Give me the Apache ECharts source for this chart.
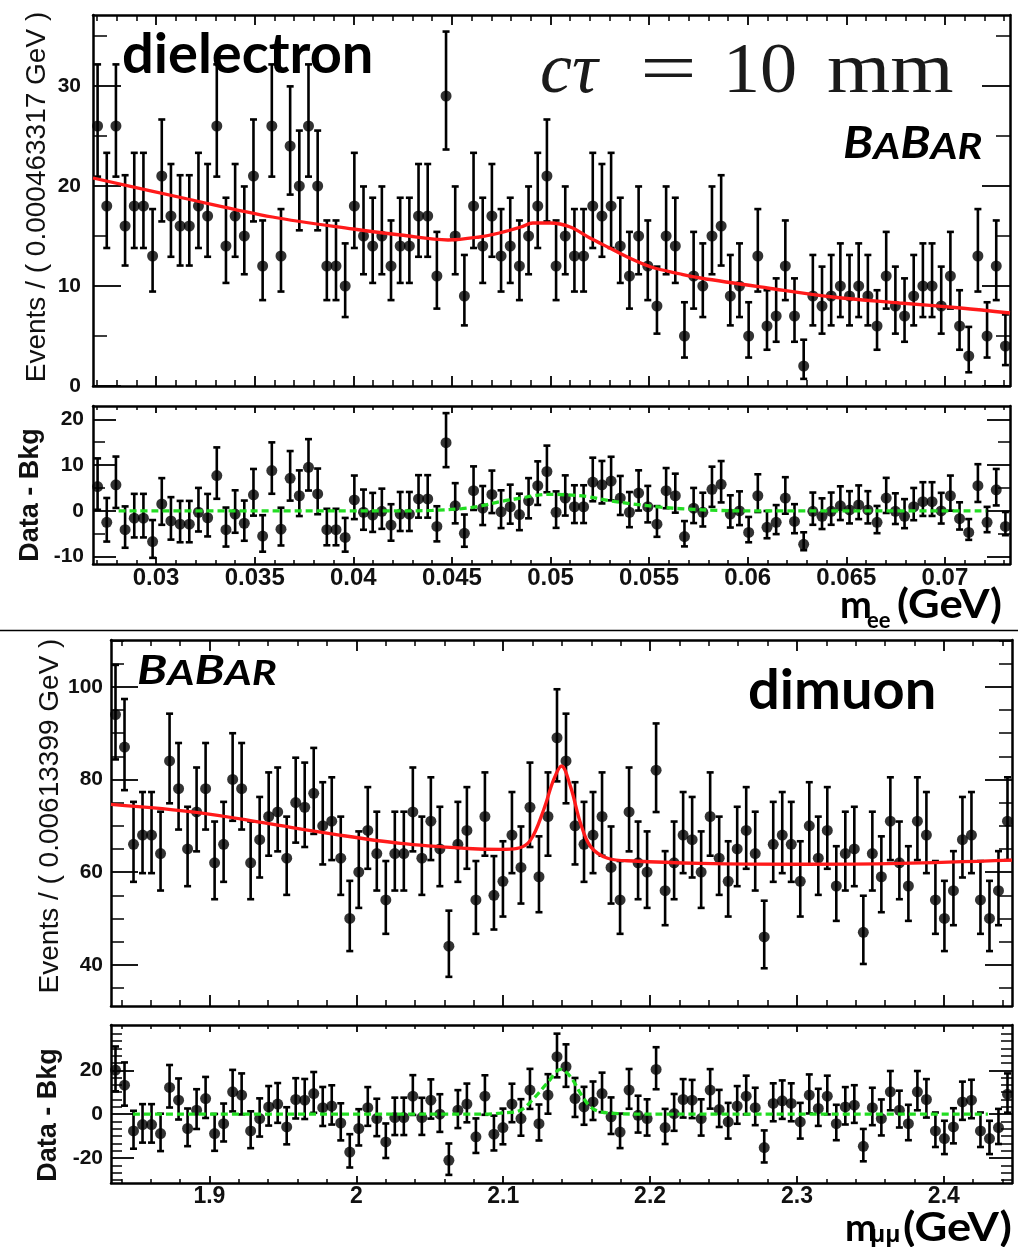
<!DOCTYPE html>
<html>
<head>
<meta charset="utf-8">
<script src="https://cdn.jsdelivr.net/npm/echarts@6.0.0/dist/echarts.min.js"></script>
<style>
html, body { margin: 0; padding: 0; background: #fff; }
#chart { width: 1018px; height: 1247px; }
</style>
</head>
<body>
<div id="chart"></div>
<script>
// ---- dielectron ----
var eeRange = [0.0268, 0.0733];
var eeCounts = [26,18,26,16,18,18,13,21,17,16, 16,18,17,26,14,17,15,21,12,26,
                13,24,20,26,20,12,12,10,18,15, 14,15,12,14,14,17,17,11,29,15,
                9,18,14,17,13,14,12,15,18,21, 12,15,13,13,18,17,18,14,11,15,
                12,8,15,14,5,11,10,15,16,9, 10,5,13,6,7,12,7,2,9,8,
                9,10,9,10,9,6,11,8,7,9, 10,10,8,11,6,3,13,5,12,4];
var eeResid = [5.3,-2.5,5.7,-4.1,-1.6,-1.6,-6.7,1.5,-2.2,-2.9, -2.9,-0.3,-1.5,7.7,-4.1,-0.7,-2.7,3.5,-5.5,8.8,
               -4.0,7.1,3.3,9.5,3.7,-4.1,-4.1,-5.8,2.4,-0.3, -0.9,-0.1,-3.1,-0.7,-0.7,2.6,2.6,-3.4,14.9,1.1,
               -4.9,4.4,0.6,3.6,-0.2,0.9,-0.8,2.2,5.5,8.6, -0.3,2.8,0.9,0.9,6.3,5.7,6.5,2.8,-0.3,3.9,
               0.9,-2.9,4.4,3.3,-5.6,0.6,-0.3,4.7,5.8,-0.7, 0.0,-4.7,3.3,-3.6,-2.5,2.8,-2.3,-7.3,-0.1,-1.2,
               -0.1,1.1,0.2,1.3,0.2,-2.5,2.8,-0.1,-1.2,0.9, 2.0,2.0,0.0,3.3,-1.7,-4.7,5.5,-2.5,4.6,-3.4];
var eeFitX = [0.0268,0.0316,0.0359,0.0400,0.0424,0.0448,0.0464,0.0474,0.0485,0.0491,0.0500,0.0510,
              0.0520,0.0530,0.0540,0.0551,0.0566,0.0576,0.0610,0.0643,0.0677,0.0708,0.0733];
var eeFitY = [20.8,18.7,16.9,15.7,15.1,14.6,14.9,15.3,15.9,16.3,16.3,15.9,
              14.8,13.8,12.8,11.9,11.2,10.8,9.8,8.9,8.3,7.8,7.3];
var eeSigX = [0.0281,0.0424,0.0440,0.0455,0.0465,0.0474,0.0485,0.0493,0.0500,0.0508,0.0519,
              0.0530,0.0542,0.0556,0.0569,0.0585,0.0601,0.0721];
var eeSigY = [0,0,0.1,0.5,1.1,2.0,2.8,3.4,3.6,3.5,3.1,2.2,1.5,0.8,0.4,0.1,0,0];
var eeTicksX = [0.03,0.035,0.04,0.045,0.05,0.055,0.06,0.065,0.07];
var eeTicksY = [0,10,20,30];
var eeResTicksY = [-10,0,10,20];

// ---- dimuon ----
var mmRange = [1.833, 2.446399];
var mmCounts = [94,87,66,68,68,64,84,78,65,73, 78,62,66,80,78,62,67,72,73,63,
                75,74,77,70,71,63,50,60,69,64, 54,64,64,73,63,71,65,44,66,69,
                54,72,55,58,68,61,74,59,72,89, 84,70,66,68,72,61,54,73,62,60,
                82,56,62,68,67,60,72,63,58,65, 69,64,46,66,68,66,58,70,63,69,
                57,64,65,47,64,59,71,62,57,71, 68,54,50,56,67,68,54,50,56,71];
var mmResid = [20.1,13.2,-7.6,-4.7,-4.7,-8.8,12.2,6.4,-6.5,1.8, 7.1,-8.8,-4.3,10.2,8.7,-7.6,-2.0,3.3,4.6,-5.8,
               6.7,6.4,9.4,3.0,3.7,-4.0,-17.2,-6.5,3.0,-2.0, -12.6,-1.5,-1.5,8.2,-1.5,6.4,0.0,-21.0,1.8,4.6,
               -10.3,8.2,-9.1,-6.1,4.6,-2.0,11.0,-4.3,8.7,26.2, 21.6,7.1,3.3,5.6,9.4,-1.2,-8.1,11.0,-0.5,-2.0,
               20.4,-6.1,0.3,6.7,6.4,-2.0,11.0,2.1,-3.5,3.7, 8.2,3.0,-15.2,4.9,6.1,4.9,-3.5,8.7,2.6,8.2,
               -4.3,3.3,4.1,-14.6,3.0,-2.0,10.2,1.8,-4.3,10.2, 6.7,-7.6,-11.1,-5.8,5.6,6.4,-7.6,-11.1,-6.1,9.1];
var mmFitX = [1.8330,1.8937,1.9394,1.9843,2.0300,2.0757,2.0982,2.1095,2.1186,2.1275,2.1343,2.1397,
              2.1459,2.1527,2.1595,2.1711,2.1888,2.2345,2.3027,2.3708,2.4464];
var mmFitY = [74.6,72.8,70.5,68.2,66.2,65.1,64.9,65.1,66.9,73.4,79.9,82.9,
              78.4,70.5,65.5,63.0,62.4,61.9,61.7,61.9,62.6];
var mmSigX = [1.848,2.085,2.098,2.1118,2.1207,2.1302,2.1391,2.1459,2.1527,2.1595,2.1663,2.1779,2.200,2.430];
var mmSigY = [0,0,0.5,1.8,7.1,14.3,20.4,17.0,9.4,3.3,1.1,0.3,0,0];
var mmTicksX = [1.9,2,2.1,2.2,2.3,2.4];
var mmTicksY = [40,60,80,100];
var mmResTicksY = [-20,0,20];

// Poisson (Garwood-like) 1 sigma bounds for a count
function poisLo(n) { if (n <= 0) return 0; var a = 1 - 1/(9*n) - 1/(3*Math.sqrt(n)); return n*a*a*a; }
function poisHi(n) { var m = n + 1; var a = 1 - 1/(9*m) + 1/(3*Math.sqrt(m)); return m*a*a*a; }

function binCenter(range, i, nb) { return range[0] + (i + 0.5) * (range[1] - range[0]) / nb; }

function minorList(from, to, step, every) {
  var out = [];
  for (var k = from; k <= to; k++) { if (k % every !== 0) out.push(+(k * step).toFixed(6)); }
  return out;
}

var myChart = echarts.init(document.getElementById('chart'));

var grids = [
  { left: 93, top: 15, width: 917, height: 371 },
  { left: 93, top: 406, width: 917, height: 158 },
  { left: 111, top: 640, width: 901, height: 366 },
  { left: 111, top: 1025, width: 901, height: 158 }
];

var xAxes = [], yAxes = [];
var labFont = { color: '#111', fontWeight: 'bold', fontFamily: 'Liberation Sans' };

function addAxis(list, gi, pos, range, major, minor, majLen, minLen, label) {
  var idx = list.length;
  list.push({
    type: 'value', gridIndex: gi, position: pos, min: range[0], max: range[1],
    axisLine: { show: true, onZero: false, lineStyle: { color: '#000', width: 2.5 } },
    axisTick: { show: true, inside: true, length: majLen, customValues: major, lineStyle: { color: '#000', width: 1.8 } },
    axisLabel: label ? Object.assign({ show: true, customValues: major }, labFont, label) : { show: false },
    splitLine: { show: false }
  });
  list.push({
    type: 'value', gridIndex: gi, position: pos, min: range[0], max: range[1],
    axisLine: { show: false, onZero: false },
    axisTick: { show: true, inside: true, length: minLen, customValues: minor, lineStyle: { color: '#000', width: 1.5 } },
    axisLabel: { show: false },
    splitLine: { show: false }
  });
  return idx;
}

var eeMinX = minorList(27, 73, 0.001, 5);
var mmMinX = minorList(92, 122, 0.02, 5);

var panels = [
  { g: 0, xr: eeRange, yr: [0, 37.1], xt: eeTicksX, xm: eeMinX, yt: eeTicksY, ym: [5,15,25,35],
    xl: [10, 6], yl: [28, 14], xLab: null, yLab: { fontSize: 21, margin: 12 } },
  { g: 1, xr: eeRange, yr: [-11.6, 22.9], xt: eeTicksX, xm: eeMinX, yt: eeResTicksY, ym: [-5,5,15],
    xl: [7, 4], yl: [23, 12], xLab: { fontSize: 24, margin: 2 }, yLab: { fontSize: 21, margin: 9 } },
  { g: 2, xr: mmRange, yr: [31.1, 110.1], xt: mmTicksX, xm: mmMinX, yt: mmTicksY, ym: minorList(7, 22, 5, 4),
    xl: [11, 6], yl: [27, 13], xLab: null, yLab: { fontSize: 21, margin: 8 } },
  { g: 3, xr: mmRange, yr: [-31.3, 40.6], xt: mmTicksX, xm: mmMinX, yt: mmResTicksY, ym: minorList(-9, 12, 10/3, 6),
    xl: [7, 4], yl: [23, 11], xLab: { fontSize: 23, margin: 2 }, yLab: { fontSize: 21, margin: 8 } }
];

panels.forEach(function (p) {
  p.xi = addAxis(xAxes, p.g, 'bottom', p.xr, p.xt, p.xm, p.xl[0], p.xl[1], p.xLab);
  addAxis(xAxes, p.g, 'top', p.xr, p.xt, p.xm, p.xl[0], p.xl[1], null);
  p.yi = addAxis(yAxes, p.g, 'left', p.yr, p.yt, p.ym, p.yl[0], p.yl[1], p.yLab);
  addAxis(yAxes, p.g, 'right', p.yr, p.yt, p.ym, p.yl[0], p.yl[1], null);
});

function errRender(params, api) {
  var x = api.value(0);
  var a = api.coord([x, api.value(1)]);
  var b = api.coord([x, api.value(2)]);
  var c = 3.5;
  var st = { stroke: '#000', lineWidth: 2.6 };
  return { type: 'group', children: [
    { type: 'line', shape: { x1: a[0], y1: a[1], x2: b[0], y2: b[1] }, style: st },
    { type: 'line', shape: { x1: a[0] - c, y1: a[1], x2: a[0] + c, y2: a[1] }, style: st },
    { type: 'line', shape: { x1: b[0] - c, y1: b[1], x2: b[0] + c, y2: b[1] }, style: st }
  ] };
}

function zip(xs, ys) { return xs.map(function (x, i) { return [x, ys[i]]; }); }

var series = [];
function addPoints(p, counts, vals) {
  var nb = counts.length;
  var pts = [], errs = [];
  for (var i = 0; i < nb; i++) {
    var x = binCenter(p.xr, i, nb), n = counts[i], v = vals[i];
    pts.push([x, v]);
    errs.push([x, v - (n - poisLo(n)), v + (poisHi(n) - n)]);
  }
  series.push({ type: 'custom', xAxisIndex: p.xi, yAxisIndex: p.yi, renderItem: errRender,
    data: errs, encode: { x: 0, y: [1, 2] }, clip: true, z: 2, silent: true });
  series.push({ type: 'scatter', xAxisIndex: p.xi, yAxisIndex: p.yi, data: pts, symbol: 'circle',
    symbolSize: 11, itemStyle: { color: '#000' }, clip: true, z: 3, silent: true });
}
function addCurve(p, xs, ys, color, dashed) {
  series.push({ type: 'line', xAxisIndex: p.xi, yAxisIndex: p.yi, data: zip(xs, ys), smooth: 0.35,
    showSymbol: false, symbol: 'none', clip: true, z: 4, silent: true,
    lineStyle: { color: color, width: 3.3, type: dashed ? [7, 4] : 'solid' } });
}

addPoints(panels[0], eeCounts, eeCounts);
addCurve(panels[0], eeFitX, eeFitY, '#ff1a1a', false);
addPoints(panels[1], eeCounts, eeResid);
addCurve(panels[1], eeSigX, eeSigY, '#22dd22', true);
addPoints(panels[2], mmCounts, mmCounts);
addCurve(panels[2], mmFitX, mmFitY, '#ff1a1a', false);
addPoints(panels[3], mmCounts, mmResid);
addCurve(panels[3], mmSigX, mmSigY, '#22dd22', true);

function vtext(x, y, txt, size, weight) {
  return { type: 'text', x: x, y: y, rotation: Math.PI / 2,
    style: { text: txt, fontSize: size, fontWeight: weight, fontFamily: 'Liberation Sans',
      fill: '#111', align: 'center', verticalAlign: 'middle' } };
}
// text placed by its left edge and baseline
function btext(x, base, txt, size, extra, sx) {
  var st = Object.assign({ text: txt, fontSize: size, fontWeight: 'bold', fontFamily: 'Lato',
    fill: '#000', align: 'left', verticalAlign: 'bottom' }, extra || {});
  return { type: 'text', x: x, y: base + 0.2 * size, scaleX: sx || 1, style: st };
}
function serif(x, base, txt, sx, italic) {
  return { type: 'text', x: x, y: base + 0.2 * 72, scaleX: sx,
    style: { text: txt, fontSize: 72, fontFamily: 'Liberation Serif', fontStyle: italic ? 'italic' : 'normal',
      fill: '#1a1a1a', align: 'left', verticalAlign: 'bottom' } };
}
function babar(x, base, big, small, sx) {
  var f = { fontWeight: 'bold', fontStyle: 'italic', fontFamily: 'Lato', verticalAlign: 'bottom' };
  return { type: 'text', x: x, y: base + 0.2 * big, scaleX: sx,
    style: { text: '{B|B}{a|A}{B|B}{a|AR}', fill: '#000', align: 'left', verticalAlign: 'bottom',
      rich: { B: Object.assign({ fontSize: big }, f), a: Object.assign({ fontSize: small }, f) } } };
}

var graphics = [
  vtext(37, 197, 'Events / ( 0.000463317 GeV )', 28, 'normal'),
  vtext(31, 495, 'Data - Bkg', 27, 'bold'),
  vtext(50, 816, 'Events / ( 0.00613399 GeV )', 28, 'normal'),
  vtext(49, 1115, 'Data - Bkg', 27, 'bold'),
  btext(122, 72, 'dielectron', 56),
  btext(748, 708, 'dimuon', 56),
  serif(540, 95, 'c\u03c4', 1, true),
  serif(640, 95, '=', 1.4, false),
  serif(723, 95, '10', 1.03, false),
  serif(827, 95, 'mm', 1.13, false),
  babar(843, 157, 44, 37, 1.12),
  babar(137, 683, 40, 34, 1.23),
  btext(840, 617, 'm', 38),
  btext(867, 628, 'ee', 22),
  btext(897, 617, '(GeV)', 40, null, 1.09),
  btext(845, 1240, 'm', 38),
  btext(870, 1242, '\u03bc\u03bc', 23, { fontFamily: 'Open Sans' }),
  btext(903, 1240, '(GeV)', 40, null, 1.13),
  { type: 'line', shape: { x1: 0, y1: 630.5, x2: 1018, y2: 630.5 }, style: { stroke: '#000', lineWidth: 1.5 } }
];

var option = {
  backgroundColor: '#ffffff',
  animation: false,
  grid: grids,
  xAxis: xAxes,
  yAxis: yAxes,
  series: series,
  graphic: { elements: graphics }
};
myChart.setOption(option, true);
</script>
</body>
</html>
